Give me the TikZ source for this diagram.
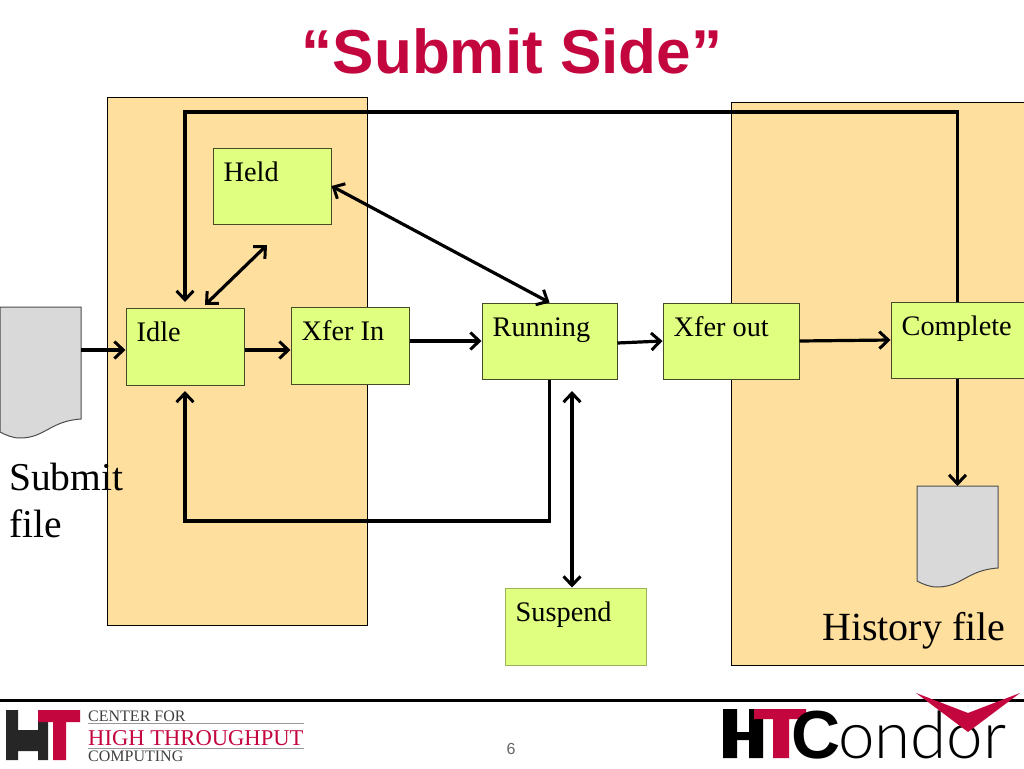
\documentclass[tikz,border=0pt]{standalone}
\usepackage{fontspec}
\setmainfont{Liberation Serif}
\newfontfamily\titlefont{Liberation Sans}
\newfontfamily\thinfont{Lato Light}
\usetikzlibrary{arrows.meta}
\definecolor{areaorange}{HTML}{FFDF9E}
\definecolor{boxgreen}{HTML}{E0FF80}
\definecolor{condorred}{HTML}{C4063F}
\tikzset{
	area/.style={draw=black,line width=0.8pt,fill=areaorange},
	statebox/.style={draw=black!70!boxgreen,line width=1pt,fill=boxgreen,inner sep=0pt},
	statetext/.style={anchor=base west,inner sep=0pt,xshift=11pt,yshift=-34pt,font=\fontsize{28.3}{30}\selectfont},
	bigtext/.style={anchor=base west,inner sep=0pt,align=left,font=\fontsize{39.5}{47}\selectfont},
	logotext/.style={anchor=base west,inner sep=0pt},
	barb/.tip={Straight Barb[length=9pt,width=17pt,line width=3pt]},
	flow/.style={line width=3.2pt,-barb},
	twoway/.style={line width=3.2pt,barb-barb},
	pics/filedoc/.style={code={
		\draw[draw=black!70,line width=1pt,fill=black!15] (0,0) -- (81,0) -- (81,#1) .. controls (50,#1+2) and (45,#1+19) .. (20,#1+19) .. controls (12,#1+19) and (6,#1+16) .. (0,#1+13) -- cycle;
		\coordinate (-top) at (41,0);
		\coordinate (-east) at (81,43);
	}}
}
\begin{document}
\begin{tikzpicture}[x=1pt,y=-1pt]
	\useasboundingbox (0,0) rectangle (1024,768);
	\fill[white] (0,0) rectangle (1024,768);
	% areas
	\draw[area] (107,97) rectangle (367,625);
	\draw[area] (731,102) rectangle (1030,665);
	\node[anchor=base,inner sep=0pt,text=condorred,font=\titlefont\bfseries\fontsize{62}{70}\selectfont] (title) at (512,74) {“Submit Side”};
	% states
	\node[statebox,minimum width=118pt,minimum height=76pt,label={[statetext]north west:Held}] (held) at (272,186) {};
	\node[statebox,minimum width=118pt,minimum height=77pt,label={[statetext]north west:Idle}] (idle) at (185,346.5) {};
	\node[statebox,minimum width=118pt,minimum height=77pt,label={[statetext]north west:Xfer In}] (xferin) at (350,345.5) {};
	\node[statebox,minimum width=135pt,minimum height=76pt,label={[statetext]north west:Running}] (running) at (549.5,341) {};
	\node[statebox,minimum width=136pt,minimum height=76pt,label={[statetext]north west:Xfer out}] (xferout) at (731,341) {};
	\node[statebox,minimum width=133pt,minimum height=76pt,label={[statetext]north west:Complete}] (complete) at (957.5,340) {};
	\node[statebox,draw=black!30!boxgreen,minimum width=141pt,minimum height=77pt,label={[statetext]north west:Suspend}] (suspend) at (575.5,626.5) {};
	% files
	\pic (submitdoc) at (0,307) {filedoc=112};
	\pic (historydoc) at (917,486) {filedoc=82};
	\node[bigtext] (submitfile) at (9,537) {Submit\\file};
	\node[bigtext,font=\fontsize{40}{47}\selectfont] (historyfile) at (822,640) {History file};
	% free ends
	\coordinate (heldend) at (267,245);
	\coordinate (idleend) at (205,305);
	\coordinate (suspendend) at (572,391);
	\coordinate (completecorner) at (957.5,112);
	\coordinate (idlecorner) at (185,112);
	\coordinate (idletop) at (185,302);
	\coordinate (runningcorner) at (549.5,521);
	\coordinate (idlebottomcorner) at (185,521);
	\coordinate (idlebottom) at (185,391);
	% connectors
	\draw[flow] (submitdoc-east) -- ([yshift=-3.5pt]idle.west);
	\draw[flow] ([yshift=-3.5pt]idle.east) -- ([yshift=-4.5pt]xferin.west);
	\draw[flow] ([yshift=4.5pt]xferin.east) -- (running.west);
	\draw[flow] ([yshift=-2pt]running.east) -- (xferout.west);
	\draw[flow] (xferout.east) -- (complete.west);
	\draw[flow,line join=miter] (complete.north) -- (completecorner) -- (idlecorner) -- (idletop);
	\draw[twoway] (idleend) -- (heldend);
	\draw[twoway] (held.east) -- (running.north);
	\draw[flow,line join=miter] (running.south) -- (runningcorner) -- (idlebottomcorner) -- (idlebottom);
	\draw[twoway] (suspendend) -- ([xshift=-3.5pt]suspend.north);
	\draw[flow] (complete.south) -- (complete.south |- historydoc-top);
	% footer
	\draw[line width=3pt] (0,700) -- (1024,700);
	\node[anchor=base,inner sep=0pt,text=black!60,font=\titlefont\fontsize{16}{18}\selectfont] (pagenum) at (511,754) {6};
	% left logo
	\fill[black!85] (6,710) rectangle (18,760) (38,710) rectangle (48,760) (18,730) rectangle (38,751);
	\fill[condorred] (38,710) rectangle (80,722) (53,722) rectangle (66,760);
	\draw[black!40,line width=0.7pt] (88,723) -- (304,723) (88,748) -- (304,748);
	\node[logotext,text=black!75,font=\fontsize{16}{17}\selectfont] (centerfor) at (88,721) {CENTER FOR};
	\node[logotext,text=condorred,font=\fontsize{22.6}{26}\selectfont] (highthroughput) at (88,745) {HIGH THROUGHPUT};
	\node[logotext,text=black!75,font=\fontsize{16}{17}\selectfont] (computing) at (88,761) {COMPUTING};
	% right logo
	\fill[black] (723,709) rectangle (737,758) (749,709) rectangle (763,758) (737,732) rectangle (749,740);
	\fill[condorred] (754,709) rectangle (806,719) (773,719) rectangle (789,758);
	\node[logotext,font=\titlefont\bfseries\fontsize{68}{70}\selectfont] (condorc) at (791,758) {C};
	\node[logotext,font=\thinfont\fontsize{65.5}{70}\selectfont] (condortext) at (838,758) {ondor};
	\fill[condorred] (916,693) -- (968,713) -- (1020,693) -- (968,732) -- cycle;
\end{tikzpicture}
\end{document}
